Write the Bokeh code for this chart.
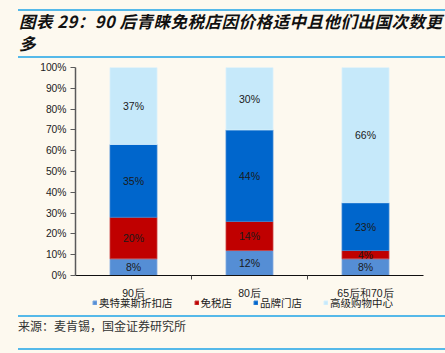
from bokeh.plotting import figure
from bokeh.layouts import column
from bokeh.models import (ColumnDataSource, Range1d, FixedTicker, PrintfTickFormatter,
                          Legend, LegendItem, Div)
from bokeh.core.properties import value
from bokeh.embed import file_html
from bokeh.resources import INLINE

# ---- data ----
categories = ["90后", "80后", "65后和70后"]
outlet = [8, 12, 8]        # 奥特莱斯折扣店
dutyfree = [20, 14, 4]     # 免税店
brand = [35, 44, 23]       # 品牌门店
mall = [37, 30, 66]        # 高级购物中心
series_names = ["奥特莱斯折扣店", "免税店", "品牌门店", "高级购物中心"]
y_ticks = [0, 10, 20, 30, 40, 50, 60, 70, 80, 90, 100]
title_lines = ["图表 29：90 后青睐免税店因价格适中且他们出国次数更", "多"]
source_text = "来源：麦肯锡，国金证券研究所"

# ---- style ----
BG = "#FDF9EF"
COLORS = ["#558ED5", "#C00000", "#0066CC", "#C6E9FA"]
EDGES = ["#7FA9E0", "#C84040", "#3A86D6", "#D8F0FC"]
RULE = "#55B9E9"
CJK = "'Liberation Sans', 'Noto Sans CJK SC'"
W = 445

rule_css = "position:absolute;left:18px;width:427px;height:2px;background:%s;" % RULE

# ---- title block (canvas y 0..60) ----
title_html = (
    f'<div style="position:relative;width:{W}px;height:60px;background:{BG};margin:0;padding:0;overflow:hidden;">'
    f'<div style="{rule_css}top:8.5px;"></div>'
    f'<div style="position:absolute;left:19px;top:10px;width:426px;color:#111111;'
    f"font-family:'Noto Sans CJK SC';font-style:italic;font-weight:bold;font-size:16.5px;"
    f'letter-spacing:0.5px;line-height:22px;white-space:nowrap;">{title_lines[0]}<br>{title_lines[1]}</div>'
    f'<div style="{rule_css}top:56px;"></div>'
    f'</div>'
)
top = Div(text=title_html, width=W, height=60, margin=0, styles={"background-color": BG})

# ---- main chart (canvas y 60..302) ----
Y0, Y1 = 60, 302
FL, FR, FT, FB = 75, 423, 67, 275
keys = ["outlet", "dutyfree", "brand", "mall"]
xs = [i + 0.5 for i in range(len(categories))]
src = ColumnDataSource(dict(x=xs, outlet=outlet, dutyfree=dutyfree, brand=brand, mall=mall))

p = figure(width=W, height=Y1 - Y0, x_range=Range1d(0, len(categories)), y_range=Range1d(0, 100),
           output_backend="svg", toolbar_location=None,
           min_border_left=FL, min_border_right=W - FR, min_border_top=FT - Y0,
           min_border_bottom=Y1 - FB, margin=0)
p.background_fill_color = BG
p.border_fill_color = BG
p.outline_line_color = None
p.xgrid.visible = False
p.ygrid.visible = False

rs = p.vbar_stack(keys, x="x", width=0.405, source=src, fill_color=COLORS, line_color=EDGES,
                  line_width=0.8)

lx, ly, lt = [], [], []
for i in range(len(categories)):
    base = 0
    for arr in (outlet, dutyfree, brand, mall):
        v = arr[i]
        t = min(base + v, 100)
        lx.append(xs[i]); ly.append((base + t) / 2); lt.append(f"{v}%")
        base += v
p.text(x=lx, y=ly, text=lt, text_align="center", text_baseline="middle",
       text_font=value("Liberation Sans"), text_font_size="10.5px", text_color="#1a1a1a")

ya = p.yaxis[0]
ya.ticker = FixedTicker(ticks=y_ticks)
ya.formatter = PrintfTickFormatter(format="%d%%")
ya.axis_line_color = "#5a5a5a"
ya.axis_line_width = 1.5
ya.major_tick_line_color = "#5a5a5a"
ya.major_tick_out = 5
ya.major_tick_in = 0
ya.minor_tick_line_color = None
ya.major_label_text_font = "Liberation Sans"
ya.major_label_text_font_size = "10.3px"
ya.major_label_text_color = "#222222"
ya.major_label_standoff = 4

xa = p.xaxis[0]
xa.ticker = FixedTicker(ticks=xs, minor_ticks=[1, 2])
xa.major_label_overrides = {x: c for x, c in zip(xs, categories)}
xa.axis_line_color = "#111111"
xa.axis_line_width = 1
xa.major_tick_line_color = None
xa.major_tick_out = 0
xa.minor_tick_line_color = "#444444"
xa.minor_tick_out = 4
xa.minor_tick_in = 0
xa.major_label_text_font = "Liberation Sans"
xa.major_label_text_font_size = "10.5px"
xa.major_label_text_color = "#222222"
xa.major_label_standoff = 7

# ---- legend strip (canvas y 298..310, pulled up over the empty axis margin) ----
LH = 12
lf = figure(width=W, height=LH, x_range=Range1d(0, len(categories)), y_range=Range1d(200, 201),
            output_backend="svg", toolbar_location=None,
            x_axis_location=None, y_axis_location=None, min_border=0, margin=(-4, 0, 0, 0))
lf.background_fill_color = BG
lf.border_fill_color = BG
lf.outline_line_color = None
lf.grid.visible = False
# same stacked bars, but outside this strip's visible range: only their legend swatches show
swatches = lf.vbar_stack(keys, x="x", width=0.405, source=src, fill_color=COLORS, line_color=EDGES)
legend = Legend(items=[LegendItem(label=n, renderers=[r]) for n, r in zip(series_names, swatches)],
                location=(17, 0), orientation="horizontal",
                glyph_width=5, glyph_height=5, label_standoff=2, spacing=21,
                label_text_font=CJK, label_text_font_size="10.5px", label_text_color="#222222",
                label_height=LH, padding=0, margin=0,
                border_line_color=None, background_fill_alpha=0)
lf.add_layout(legend, "center")

# ---- source block (canvas y 310..353) ----
src_html = (
    f'<div style="position:relative;width:{W}px;height:43px;background:{BG};margin:0;padding:0;overflow:hidden;">'
    f'<div style="{rule_css}top:5px;"></div>'
    f'<div style="position:absolute;left:18px;top:9px;color:#333333;'
    f"font-family:'Noto Sans CJK SC';font-size:12px;line-height:14px;white-space:nowrap;\">"
    f'{source_text}</div>'
    f'<div style="{rule_css}top:38px;"></div>'
    f'</div>'
)
bot = Div(text=src_html, width=W, height=43, margin=0, styles={"background-color": BG})

layout = column(top, p, lf, bot, spacing=0, margin=0, styles={"background-color": BG})
open("out.html", "w").write(file_html(layout, INLINE))
